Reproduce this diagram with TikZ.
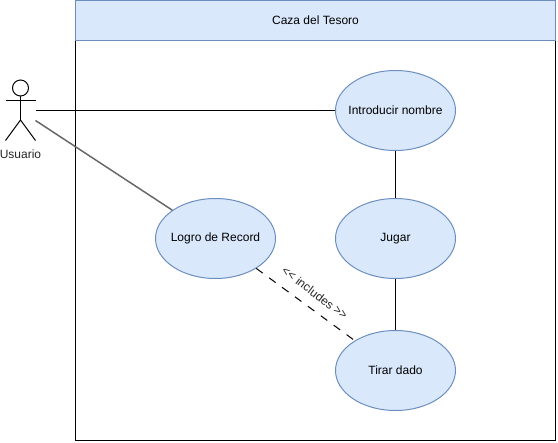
\documentclass[tikz,border=0pt]{standalone}
\usepackage{fontspec}
\setmainfont{Liberation Sans}
\definecolor{fillblue}{HTML}{DAE8FC}
\definecolor{lineblue}{HTML}{6C8EBF}
\definecolor{greyline}{HTML}{666666}
\tikzset{every picture/.style={line width=0.75pt}}
\tikzset{
  usecase/.style={ellipse,draw=lineblue,fill=fillblue,minimum width=90pt,minimum height=60pt,inner sep=0pt,inner xsep=-10pt,font=\fontsize{9pt}{11pt}\selectfont},
  label/.style={inner sep=0.75pt,font=\fontsize{9pt}{11pt}\selectfont,text=black!85}
}
\usetikzlibrary{shapes.geometric}
\begin{document}
\begin{tikzpicture}[x=0.75pt,y=0.75pt,yscale=-1,xscale=1]
\useasboundingbox (0,0) rectangle (558,443);

%System frame
\draw (75.5,40.5) rectangle (555.5,440.5);
%Title bar
\node (titulo) [draw=lineblue,fill=fillblue,minimum width=360pt,minimum height=30pt,inner sep=0pt,font=\fontsize{9pt}{11pt}\selectfont] at (315.5,20.5) {Caza del Tesoro};

%Use cases
\node (nombre) [usecase] at (395.5,110.5) {Introducir nombre};
\node (jugar) [usecase] at (395.5,238.5) {Jugar};
\node (logro) [usecase] at (215.5,238.5) {Logro de Record};
\node (dado) [usecase] at (395.5,370.5) {Tirar dado};

%Actor
\draw (20.5,88) circle (8);
\draw (20.5,96) -- (20.5,120);
\draw (5.5,100) -- (35.5,100);
\draw (5.5,140.5) -- (20.5,120) -- (35.5,140.5);
\node (usuario) [minimum width=22.5pt,minimum height=45pt,inner sep=0pt] at (20.5,110.5) {};
\coordinate (usuariob) at (35.5,120.5);
\node (usuariotxt) [label] at (20.5,154) {Usuario};

%Connectors
\draw (usuario.east) -- (nombre);
\draw [greyline,line width=1.1pt] (usuariob) -- (logro);
\draw (nombre) -- (jugar);
\draw (jugar) -- (dado);
\draw [dash pattern=on 6pt off 6pt] (logro) -- (dado);

% Text Node
\node (incluye) [label,rotate=-37] at (315,293) {<{}< includes >{}>};

\end{tikzpicture}
\end{document}
